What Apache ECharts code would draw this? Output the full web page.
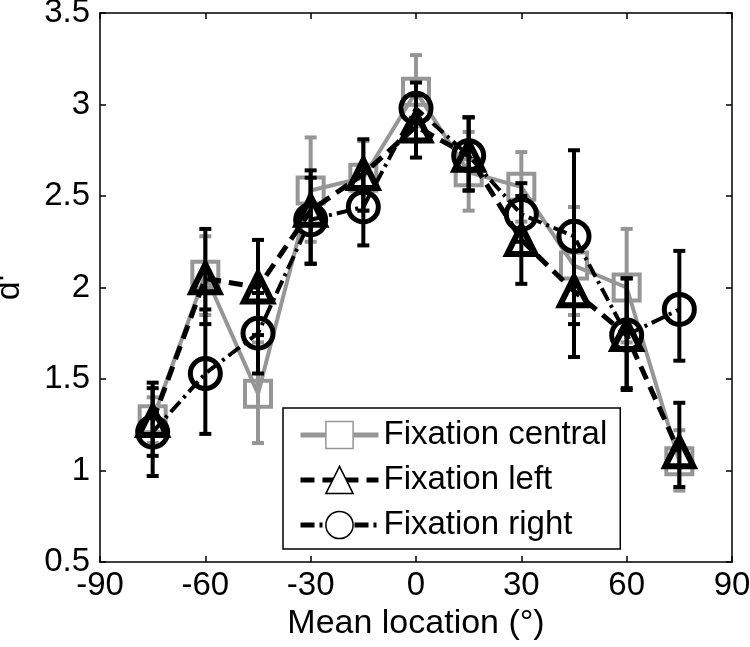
<!DOCTYPE html>
<html>
<head>
<meta charset="utf-8">
<script src="https://cdn.jsdelivr.net/npm/echarts@6/dist/echarts.min.js"></script>
<style>
  html, body { margin: 0; padding: 0; background: #fff; }
  #container { width: 750px; height: 647px; }
</style>
</head>
<body>
<div id="container"></div>
<script>
// mean location (deg)
var locations = [-75, -60, -45, -30, -15, 0, 15, 30, 45, 60, 75];

// Fixation central
var centralMean = [1.28, 2.07, 1.42, 2.53, 2.60, 3.07, 2.63, 2.55, 2.12, 2.00, 1.05];
var centralLow = [1.15, 1.85, 1.15, 2.25, 2.42, 2.88, 2.42, 2.36, 1.85, 1.70, 0.89];
var centralHigh = [1.40, 2.28, 1.70, 2.82, 2.80, 3.27, 2.85, 2.74, 2.44, 2.32, 1.22];

// Fixation left
var leftMean = [1.27, 2.05, 2.00, 2.42, 2.62, 2.88, 2.72, 2.26, 1.98, 1.74, 1.10];
var leftLow = [1.08, 1.80, 1.74, 2.13, 2.42, 2.71, 2.53, 2.02, 1.62, 1.45, 0.91];
var leftHigh = [1.48, 2.32, 2.26, 2.64, 2.81, 3.05, 2.93, 2.50, 2.36, 2.05, 1.37];

// Fixation right
var rightMean = [1.21, 1.53, 1.75, 2.37, 2.44, 2.98, 2.72, 2.40, 2.28, 1.74, 1.88];
var rightLow = [0.97, 1.20, 1.53, 2.13, 2.23, 2.80, 2.53, 2.25, 1.80, 1.44, 1.60];
var rightHigh = [1.45, 1.88, 1.97, 2.60, 2.65, 3.12, 2.93, 2.57, 2.75, 2.05, 2.20];

var seriesNames = ["Fixation central", "Fixation left", "Fixation right"];

var FONT = "Liberation Sans";
var GRAY = "#969696";

function pairs(ys) {
  return locations.map(function(x, i) {
    return [x, ys[i]];
  });
}
function bars(lo, hi) {
  return locations.map(function(x, i) {
    return [x, lo[i], hi[i]];
  });
}

function errorBar(color) {
  return function(params, api) {
    var x = api.value(0);
    var lo = api.coord([x, api.value(1)]);
    var hi = api.coord([x, api.value(2)]);
    var c = 6;
    var st = { stroke: color, lineWidth: 4 };
    return {
      type: "group",
      children: [
        { type: "line", shape: { x1: lo[0], y1: lo[1], x2: hi[0], y2: hi[1] }, style: st },
        { type: "line", shape: { x1: lo[0] - c, y1: lo[1], x2: lo[0] + c, y2: lo[1] }, style: st },
        { type: "line", shape: { x1: hi[0] - c, y1: hi[1], x2: hi[0] + c, y2: hi[1] }, style: st }
      ]
    };
  };
}

var chartDom = document.getElementById("container");
var myChart = echarts.init(chartDom);
var option;

var axisCommon = {
  axisLine: { show: true, onZero: false, lineStyle: { color: "#000", width: 1.5 } },
  axisTick: { show: true, inside: true, length: 6, lineStyle: { color: "#000", width: 1.5 } },
  splitLine: { show: false }
};

// legend samples: thick line, thin outlined white marker
var legendLines = [
  { color: GRAY, width: 5, type: "solid" },
  { color: "#000", width: 5, type: [14, 8] },
  { color: "#000", width: 5, type: [14, 5, 3, 5] }
];
var legendMarkers = [GRAY, "#000", "#000"];

option = {
  animation: false,
  backgroundColor: "#fff",
  grid: { left: 100, right: 18, top: 13, bottom: 85, outerBoundsMode: "none", containLabel: false },
  textStyle: { fontFamily: FONT },
  legend: {
    orient: "vertical",
    left: 283,
    top: 408,
    padding: [10, 13, 7, 15],
    itemWidth: 78,
    itemHeight: 34,
    itemGap: 11,
    backgroundColor: "#fff",
    borderColor: "#000",
    borderWidth: 1.5,
    borderRadius: 0,
    textStyle: { fontFamily: FONT, fontSize: 33, color: "#000", lineHeight: 34 },
    data: seriesNames.map(function(n, i) {
      return {
        name: n,
        lineStyle: legendLines[i],
        itemStyle: { color: "#fff", borderColor: legendMarkers[i], borderWidth: 1.5 }
      };
    })
  },
  xAxis: [
    Object.assign({}, axisCommon, {
      type: "value",
      min: -90,
      max: 90,
      interval: 30,
      position: "bottom",
      name: "Mean location (\u00b0)",
      nameLocation: "middle",
      nameGap: 44,
      nameTextStyle: { fontFamily: FONT, fontSize: 34, color: "#000" },
      axisLabel: { fontFamily: FONT, fontSize: 33, color: "#000", margin: 7 }
    }),
    Object.assign({}, axisCommon, {
      type: "value",
      min: -90,
      max: 90,
      interval: 30,
      position: "top",
      axisLabel: { show: false }
    })
  ],
  yAxis: [
    Object.assign({}, axisCommon, {
      type: "value",
      min: 0.5,
      max: 3.5,
      interval: 0.5,
      position: "left",
      name: "d'",
      nameLocation: "middle",
      nameGap: 73,
      nameTextStyle: { fontFamily: FONT, fontSize: 34, color: "#000" },
      axisLabel: { fontFamily: FONT, fontSize: 33, color: "#000", margin: 10 }
    }),
    Object.assign({}, axisCommon, {
      type: "value",
      min: 0.5,
      max: 3.5,
      interval: 0.5,
      position: "right",
      axisLabel: { show: false }
    })
  ],
  series: [
    {
      type: "custom",
      name: "cbar",
      z: 2,
      renderItem: errorBar(GRAY),
      data: bars(centralLow, centralHigh)
    },
    {
      name: seriesNames[0],
      type: "line",
      z: 2,
      data: pairs(centralMean),
      symbol: "rect",
      symbolSize: 26,
      lineStyle: { color: GRAY, width: 4, type: "solid" },
      itemStyle: { color: "rgba(255,255,255,0)", borderColor: GRAY, borderWidth: 4 }
    },
    {
      type: "custom",
      name: "lbar",
      z: 3,
      renderItem: errorBar("#000"),
      data: bars(leftLow, leftHigh)
    },
    {
      name: seriesNames[1],
      type: "line",
      z: 3,
      data: pairs(leftMean),
      symbol: "triangle",
      symbolSize: 28,
      lineStyle: { color: "#000", width: 5, type: [14, 8] },
      itemStyle: { color: "rgba(255,255,255,0)", borderColor: "#000", borderWidth: 6 }
    },
    {
      type: "custom",
      name: "rbar",
      z: 4,
      renderItem: errorBar("#000"),
      data: bars(rightLow, rightHigh)
    },
    {
      name: seriesNames[2],
      type: "line",
      z: 4,
      data: pairs(rightMean),
      symbol: "circle",
      symbolSize: 30,
      lineStyle: { color: "#000", width: 4, type: [14, 5, 3, 5] },
      itemStyle: { color: "rgba(255,255,255,0)", borderColor: "#000", borderWidth: 5 }
    }
  ]
};

option && myChart.setOption(option);
</script>
</body>
</html>
